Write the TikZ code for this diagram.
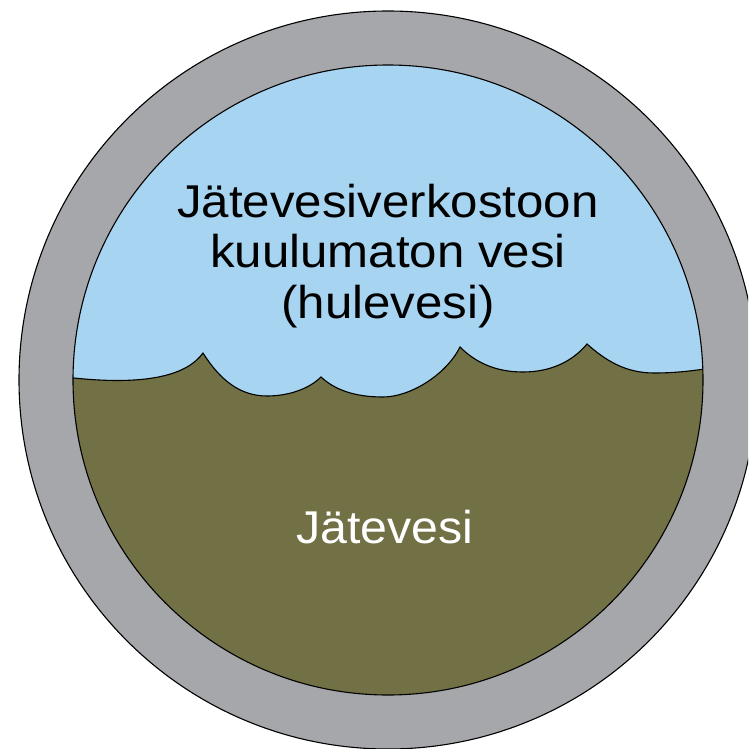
\documentclass[tikz,border=0pt]{standalone}
\usepackage{fontspec}
\setmainfont{Liberation Sans}
\usepackage{graphicx}
\definecolor{ringgray}{HTML}{A6A7AB}
\definecolor{skyblue}{HTML}{A7D4F0}
\definecolor{sewage}{HTML}{727045}
\tikzset{
  outline/.style={draw=black, line width=1.1pt},
  bigtext/.style={anchor=base, inner sep=0pt, font=\fontsize{46}{52}\selectfont},
}
\begin{document}
\begin{tikzpicture}[x=1pt, y=-1pt]
  \useasboundingbox (0,0) rectangle (748,749);
  \clip (0,0) rectangle (748,749);
  \fill[white] (0,0) rectangle (748,749);
  \coordinate (C) at (388,380);
  % pipe ring
  \fill[ringgray] (C) circle (369);
  \draw[outline] (C) circle (369);
  % interior
  \begin{scope}
    \clip (C) circle (315);
    \fill[skyblue] (0,0) rectangle (748,749);
    \fill[sewage] (40,378) -- (74,378)
      .. controls (150,386) and (188,374) .. (203,353)
      .. controls (220,380) and (240,396) .. (267,396)
      .. controls (290,396) and (310,388) .. (321,377)
      .. controls (335,390) and (355,397) .. (383,397)
      .. controls (410,397) and (446,375) .. (460,347)
      .. controls (475,362) and (495,372) .. (523,372)
      .. controls (550,372) and (572,362) .. (587,344)
      .. controls (605,360) and (625,373) .. (654,373)
      .. controls (675,373) and (690,371) .. (705,369)
      -- (740,366) -- (740,760) -- (40,760) -- cycle;
    \draw[outline] (40,378) -- (74,378)
      .. controls (150,386) and (188,374) .. (203,353)
      .. controls (220,380) and (240,396) .. (267,396)
      .. controls (290,396) and (310,388) .. (321,377)
      .. controls (335,390) and (355,397) .. (383,397)
      .. controls (410,397) and (446,375) .. (460,347)
      .. controls (475,362) and (495,372) .. (523,372)
      .. controls (550,372) and (572,362) .. (587,344)
      .. controls (605,360) and (625,373) .. (654,373)
      .. controls (675,373) and (690,371) .. (705,369)
      -- (740,366);
  \end{scope}
  \draw[outline] (C) circle (315);
  % texts
  \node[bigtext, text=black] (t1) at (388,217) {\scalebox{1.07}[1]{Jätevesiverkostoon}};
  \node[bigtext, text=black] (t2) at (388,267) {\scalebox{1.07}[1]{kuulumaton vesi}};
  \node[bigtext, text=black] (t3) at (388,318) {\scalebox{1.07}[1]{(hulevesi)}};
  \node[bigtext, text=white] (t4) at (385,543) {\scalebox{1.05}[1]{Jätevesi}};
\end{tikzpicture}
\end{document}
